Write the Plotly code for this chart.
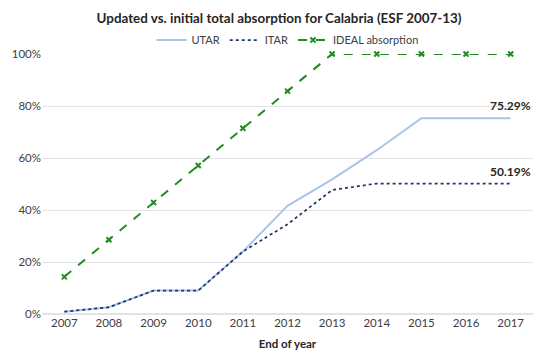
import plotly.graph_objects as go

years = ["2007","2008","2009","2010","2011","2012","2013","2014","2015","2016","2017"]
utar = [0.009, 0.026, 0.090, 0.090, 0.240, 0.416, 0.518, 0.630, 0.7529, 0.7529, 0.7529]
itar = [0.009, 0.026, 0.090, 0.090, 0.240, 0.345, 0.477, 0.5019, 0.5019, 0.5019, 0.5019]
ideal = [0.1429, 0.2857, 0.4286, 0.5714, 0.7143, 0.8571, 1.0, 1.0, 1.0, 1.0, 1.0]
labels = ["75.29%", "50.19%"]

FONT = "Lato"
W, H = 542, 352
fig = go.Figure()
fig.add_trace(go.Scatter(x=years, y=utar, name="UTAR", mode="lines",
                         line=dict(color="#a9c4eb", width=2)))
fig.add_trace(go.Scatter(x=years, y=itar, name="ITAR", mode="lines",
                         line=dict(color="#203864", width=1.75, dash="dot")))
fig.add_trace(go.Scatter(x=years, y=ideal, name="IDEAL absorption", mode="lines+markers",
                         line=dict(color="#228b22", width=2, dash="dash"),
                         marker=dict(symbol="x-thin", size=5, line=dict(color="#228b22", width=2)),
                         cliponaxis=False))

last = len(years) - 1
fig.add_annotation(x=last, y=utar[-1], text="<b>" + labels[0] + "</b>", showarrow=False,
                   xanchor="center", yanchor="bottom", yshift=3,
                   font=dict(family=FONT, size=12, color="#262626"))
fig.add_annotation(x=last, y=itar[-1], text="<b>" + labels[1] + "</b>", showarrow=False,
                   xanchor="center", yanchor="bottom", yshift=3,
                   font=dict(family=FONT, size=12, color="#262626"))

fig.update_layout(
    width=W, height=H,
    margin=dict(l=34, r=17, t=46, b=46, autoexpand=False),
    paper_bgcolor="white", plot_bgcolor="white",
    font=dict(family=FONT, size=11, color="#262626"),
    title=dict(text="<b>Updated vs. initial total absorption for Calabria (ESF 2007-13)</b>",
               x=0.5, xanchor="center", y=1 - 10 / H, yanchor="middle",
               font=dict(family=FONT, size=13.4, color="#262626")),
    legend=dict(orientation="h", x=0.5, xanchor="center", y=1 - 32 / H, yanchor="middle",
                yref="container", font=dict(family=FONT, size=11, color="#404040"),
                itemwidth=30, bgcolor="rgba(0,0,0,0)"),
    showlegend=True,
)
fig.update_xaxes(type="category", range=[-0.5, 10.5], showgrid=False, showline=False,
                 automargin=False,
                 ticks="", tickfont=dict(family=FONT, size=11.5, color="#404040"),
                 title=dict(text="<b>End of year</b>", font=dict(family=FONT, size=11.5, color="#262626"),
                            standoff=12))
fig.update_yaxes(range=[0, 1.0], dtick=0.2, tickformat=".0%", showgrid=True, automargin=False,
                 gridcolor="#e3e3e3", gridwidth=1, zeroline=True, zerolinecolor="#e3e3e3",
                 showline=False, ticks="", tickfont=dict(family=FONT, size=11.5, color="#404040"))

fig.write_html("out.html")
